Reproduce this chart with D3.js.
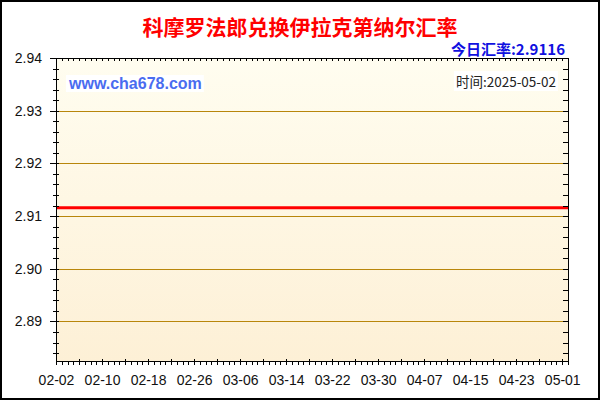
<!doctype html>
<html lang="zh">
<head>
    <meta charset="utf-8">
    <title>科摩罗法郎兑换伊拉克第纳尔汇率</title>
    <script src="https://cdnjs.cloudflare.com/ajax/libs/d3/7.8.5/d3.min.js"></script>
    <style>
        body { margin: 0; background: #fff; }
        svg text { font-family: "Liberation Sans", Arial, sans-serif; }
        .cjk { font-family: "Noto Sans CJK SC", "Liberation Sans", sans-serif; }
    </style>
</head>
<body>
    <div id="chart"></div>
    <script>
        // data
        var startDate = '2025-02-02';
        var rates = [
            2.9116, 2.9116, 2.9116, 2.9116, 2.9116, 2.9116, 2.9116, 2.9116, 2.9116, 2.9116,
            2.9116, 2.9116, 2.9116, 2.9116, 2.9116, 2.9116, 2.9116, 2.9116, 2.9116, 2.9116,
            2.9116, 2.9116, 2.9116, 2.9116, 2.9116, 2.9116, 2.9116, 2.9116, 2.9116, 2.9116,
            2.9116, 2.9116, 2.9116, 2.9116, 2.9116, 2.9116, 2.9116, 2.9116, 2.9116, 2.9116,
            2.9116, 2.9116, 2.9116, 2.9116, 2.9116, 2.9116, 2.9116, 2.9116, 2.9116, 2.9116,
            2.9116, 2.9116, 2.9116, 2.9116, 2.9116, 2.9116, 2.9116, 2.9116, 2.9116, 2.9116,
            2.9116, 2.9116, 2.9116, 2.9116, 2.9116, 2.9116, 2.9116, 2.9116, 2.9116, 2.9116,
            2.9116, 2.9116, 2.9116, 2.9116, 2.9116, 2.9116, 2.9116, 2.9116, 2.9116, 2.9116,
            2.9116, 2.9116, 2.9116, 2.9116, 2.9116, 2.9116, 2.9116, 2.9116, 2.9116, 2.9116
        ];
        var xLabels = ['02-02', '02-10', '02-18', '02-26', '03-06', '03-14',
                       '03-22', '03-30', '04-07', '04-15', '04-23', '05-01'];
        var yTicks = [2.89, 2.90, 2.91, 2.92, 2.93, 2.94];
        var yMin = 2.8825, yMax = 2.94;
        var title = '科摩罗法郎兑换伊拉克第纳尔汇率';
        var todayRate = '今日汇率:2.9116';
        var dateText = '时间:2025-05-02';
        var site = 'www.cha678.com';

        var width = 600, height = 400;
        var plotL = 56, plotR = 568, plotT = 58, plotB = 361;

        var svg = d3.select('#chart')
            .append('svg')
            .attr('width', width)
            .attr('height', height);

        var parse = d3.timeParse('%Y-%m-%d');
        var t0 = parse(startDate);
        var data = rates.map(function(v, i) {
            return {date: d3.timeDay.offset(t0, i), value: v};
        });

        var xScale = d3.scaleTime()
            .domain([data[0].date, data[data.length - 1].date])
            .range([plotL, plotR]);
        var yScale = d3.scaleLinear()
            .domain([yMin, yMax])
            .range([plotB, plotT]);

        // background
        var grad = svg.append('defs').append('linearGradient')
            .attr('id', 'bg').attr('x1', 0).attr('y1', 0).attr('x2', 0).attr('y2', 1);
        grad.append('stop').attr('offset', '0%').attr('stop-color', '#fffdf0');
        grad.append('stop').attr('offset', '100%').attr('stop-color', '#fdf0d6');

        svg.append('rect')
            .attr('x', plotL).attr('y', plotT)
            .attr('width', plotR - plotL).attr('height', plotB - plotT)
            .attr('fill', 'url(#bg)');

        // grid
        svg.append('g').selectAll('line')
            .data(yTicks)
            .enter().append('line')
            .attr('x1', plotL).attr('x2', plotR)
            .attr('y1', function(d) { return Math.round(yScale(d)) + 0.5; })
            .attr('y2', function(d) { return Math.round(yScale(d)) + 0.5; })
            .attr('stroke', '#b8860b');

        // watermark + date
        var wm = svg.append('text')
            .attr('x', 69).attr('y', 89)
            .attr('font-size', 16).attr('font-weight', 'bold')
            .attr('fill', '#4a6cf0')
            .text(site);
        var bb = wm.node().getBBox();
        svg.insert('rect', function() { return wm.node(); })
            .attr('x', bb.x - 2).attr('y', bb.y).attr('width', bb.width + 4).attr('height', bb.height)
            .attr('fill', '#fff');

        var dt = svg.append('text')
            .attr('class', 'cjk')
            .attr('x', 556).attr('y', 87)
            .attr('text-anchor', 'end')
            .attr('font-size', 13.5)
            .attr('fill', '#222')
            .text(dateText);
        var bb2 = dt.node().getBBox();
        svg.insert('rect', function() { return dt.node(); })
            .attr('x', bb2.x - 2).attr('y', bb2.y).attr('width', bb2.width + 4).attr('height', bb2.height)
            .attr('fill', '#fff');

        // line
        var line = d3.line()
            .x(function(d) { return xScale(d.date); })
            .y(function(d) { return yScale(d.value); });
        svg.append('path')
            .datum(data)
            .attr('d', line)
            .attr('fill', 'none')
            .attr('stroke', '#ff0000')
            .attr('stroke-width', 3);

        // axes
        var days = d3.timeDay.range(data[0].date, d3.timeDay.offset(data[data.length - 1].date, 1));
        var major = days.filter(function(d, i) { return i % 4 === 0; });
        var labelDates = days.filter(function(d, i) { return i % 8 === 0; });

        var bottomMinor = d3.axisBottom(xScale).tickValues(days).tickSize(4).tickFormat('');
        var bottomMajor = d3.axisBottom(xScale).tickValues(major).tickSize(6).tickFormat('');
        var bottomLabels = d3.axisBottom(xScale).tickValues(labelDates).tickSize(0).tickPadding(14)
            .tickFormat(function(d, i) { return xLabels[i]; });
        var topMinor = d3.axisBottom(xScale).tickValues(days).tickSize(3).tickFormat('');

        var gb = svg.append('g').attr('transform', 'translate(0,' + plotB + ')');
        gb.call(bottomMinor);
        gb.append('g').call(bottomMajor).attr('transform', 'translate(0,-2)');
        gb.append('g').call(bottomLabels);
        svg.append('g').attr('transform', 'translate(0,' + plotT + ')').call(topMinor);

        var yMinorTicks = d3.range(2.884, 2.9401, 0.002);
        var leftMinor = d3.axisLeft(yScale).tickValues(yMinorTicks).tickSize(3).tickFormat('');
        var leftMajor = d3.axisLeft(yScale).tickValues(yTicks).tickSize(6).tickPadding(8)
            .tickFormat(d3.format('.2f'));
        var rightMinor = d3.axisLeft(yScale).tickValues(yMinorTicks).tickSize(5).tickFormat('');

        var gl = svg.append('g').attr('transform', 'translate(' + plotL + ',0)');
        gl.call(leftMinor);
        gl.append('g').attr('transform', 'translate(3,0)').call(leftMinor);
        gl.append('g').call(leftMajor);
        svg.append('g').attr('transform', 'translate(' + plotR + ',0)').call(rightMinor);

        svg.selectAll('.domain').remove();
        svg.selectAll('.tick line').attr('stroke', '#000').attr('shape-rendering', 'crispEdges');
        svg.selectAll('.tick text')
            .attr('font-family', '"Liberation Sans", Arial, sans-serif')
            .attr('font-size', 14).attr('fill', '#111');

        // frame
        svg.append('rect')
            .attr('x', plotL).attr('y', plotT)
            .attr('width', plotR - plotL).attr('height', plotB - plotT)
            .attr('fill', 'none').attr('stroke', '#000')
            .attr('shape-rendering', 'crispEdges');

        // titles
        svg.append('text')
            .attr('class', 'cjk')
            .attr('x', 300).attr('y', 35)
            .attr('text-anchor', 'middle')
            .attr('font-size', 21).attr('font-weight', 'bold')
            .attr('fill', '#ff0000')
            .text(title);
        svg.append('text')
            .attr('class', 'cjk')
            .attr('x', 565).attr('y', 55)
            .attr('text-anchor', 'end')
            .attr('font-size', 15).attr('font-weight', 'bold')
            .attr('fill', '#1010e0')
            .text(todayRate);

        svg.append('rect')
            .attr('x', 1).attr('y', 1).attr('width', 598).attr('height', 398)
            .attr('fill', 'none').attr('stroke', '#000').attr('stroke-width', 2);
    </script>
</body>
</html>
